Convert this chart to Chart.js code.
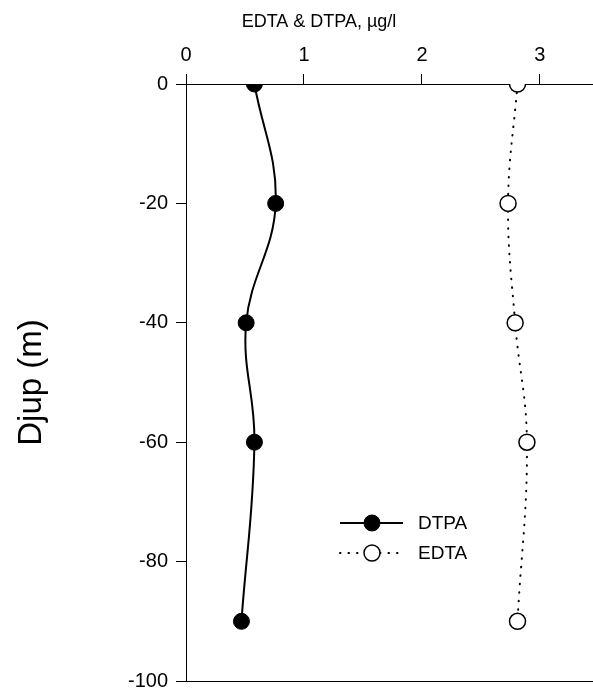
<!DOCTYPE html>
<html>
<head>
<meta charset="utf-8">
<script src="https://cdn.jsdelivr.net/npm/chart.js@4/dist/chart.umd.min.js"></script>
<style>
  html, body { margin: 0; padding: 0; background: #fff; overflow: hidden; }
  #wrap { width: 593px; height: 691px; }
</style>
</head>
<body>
<div id="wrap"><canvas id="c" width="593" height="691"></canvas></div>
<script>
const depths = [0, -20, -40, -60, -90];
const dtpaValues = [0.58, 0.76, 0.51, 0.58, 0.47];
const edtaValues = [2.81, 2.73, 2.79, 2.89, 2.81];
const xTickValues = [0, 1, 2, 3];
const yTickValues = [0, -20, -40, -60, -80, -100];
const seriesLabels = ['DTPA', 'EDTA'];
const xTitle = 'EDTA & DTPA, µg/l';
const yTitle = 'Djup (m)';

const FONT = "Arial, 'Liberation Sans', sans-serif";

const bottomLine = {
  id: 'bottomLine',
  afterDraw(chart) {
    const {ctx, chartArea} = chart;
    ctx.save();
    ctx.strokeStyle = '#000';
    ctx.lineWidth = 1;
    ctx.beginPath();
    ctx.moveTo(chartArea.left, Math.round(chartArea.bottom) + 0.5);
    ctx.lineTo(chartArea.right, Math.round(chartArea.bottom) + 0.5);
    ctx.stroke();
    ctx.restore();
  }
};

const topTitle = {
  id: 'topTitle',
  afterDraw(chart) {
    const {ctx} = chart;
    ctx.save();
    ctx.font = '18px ' + FONT;
    ctx.fillStyle = '#000';
    ctx.textAlign = 'center';
    ctx.textBaseline = 'middle';
    ctx.fillText(xTitle, 319, 22);
    ctx.restore();
  }
};

const innerLegend = {
  id: 'innerLegend',
  afterDraw(chart) {
    const {ctx} = chart;
    const items = chart.data.datasets;
    ctx.save();
    ctx.font = '19px ' + FONT;
    ctx.textBaseline = 'middle';
    ctx.fillStyle = '#000';
    items.forEach((ds, i) => {
      const y = 523 + i * 30;
      const x0 = 340, x1 = 403, xm = 372;
      ctx.strokeStyle = '#000';
      ctx.lineWidth = ds.borderWidth;
      ctx.lineCap = ds.borderCapStyle || 'butt';
      ctx.setLineDash(ds.borderDash || []);
      ctx.beginPath();
      ctx.moveTo(x0, y); ctx.lineTo(xm - 8, y);
      ctx.moveTo(xm + 8, y); ctx.lineTo(x1, y);
      ctx.stroke();
      ctx.setLineDash([]);
      ctx.beginPath();
      ctx.arc(xm, y, ds.pointRadius, 0, Math.PI * 2);
      ctx.fillStyle = ds.pointBackgroundColor;
      ctx.fill();
      ctx.lineWidth = ds.pointBorderWidth;
      ctx.strokeStyle = '#000';
      ctx.stroke();
      ctx.fillStyle = '#000';
      ctx.fillText(ds.label, 418, y + 1);
    });
    ctx.restore();
  }
};

new Chart(document.getElementById('c'), {
  type: 'scatter',
  data: {
    datasets: [
      {
        label: seriesLabels[0],
        data: depths.map((d, i) => ({x: dtpaValues[i], y: d})),
        showLine: true,
        tension: 0.4,
        borderColor: '#000',
        borderWidth: 2,
        pointRadius: 8,
        pointHoverRadius: 8,
        pointBackgroundColor: '#000',
        pointBorderColor: '#000',
        pointBorderWidth: 1
      },
      {
        label: seriesLabels[1],
        data: depths.map((d, i) => ({x: edtaValues[i], y: d})),
        showLine: true,
        tension: 0.4,
        borderColor: '#000',
        borderWidth: 2,
        borderDash: [0.5, 8],
        borderCapStyle: 'round',
        pointRadius: 8,
        pointHoverRadius: 8,
        pointBackgroundColor: '#fff',
        pointBorderColor: '#000',
        pointBorderWidth: 1.5
      }
    ]
  },
  options: {
    responsive: false,
    animation: false,
    devicePixelRatio: 1,
    layout: { autoPadding: false, padding: { left: 12, right: 0, top: 0, bottom: 10 } },
    plugins: { legend: { display: false }, tooltip: { enabled: false } },
    scales: {
      x: {
        type: 'linear',
        position: 'top',
        min: 0,
        max: 3.45,
        afterBuildTicks(scale) { scale.ticks = xTickValues.map(v => ({value: v})); },
        afterFit(scale) { scale.height = 84; scale.paddingLeft = 0; scale.paddingRight = 0; },
        ticks: { color: '#000', font: { size: 20, family: FONT }, padding: 7, maxRotation: 0 },
        grid: { drawOnChartArea: false, color: '#000', tickLength: 10, lineWidth: 1 },
        border: { display: true, color: '#000', width: 1 },
        title: { display: false, text: xTitle }
      },
      y: {
        type: 'linear',
        min: -100,
        max: 0,
        afterBuildTicks(scale) { scale.ticks = yTickValues.map(v => ({value: v})); },
        afterFit(scale) { scale.width = 174; scale.paddingTop = 0; scale.paddingBottom = 0; },
        ticks: { color: '#000', font: { size: 20, family: FONT }, padding: 8 },
        grid: { drawOnChartArea: false, color: '#000', tickLength: 10, lineWidth: 1 },
        border: { display: true, color: '#000', width: 1 },
        title: { display: true, text: yTitle, color: '#000', font: { size: 33, family: FONT }, padding: 0 }
      }
    }
  },
  plugins: [bottomLine, topTitle, innerLegend]
});
</script>
</body>
</html>
